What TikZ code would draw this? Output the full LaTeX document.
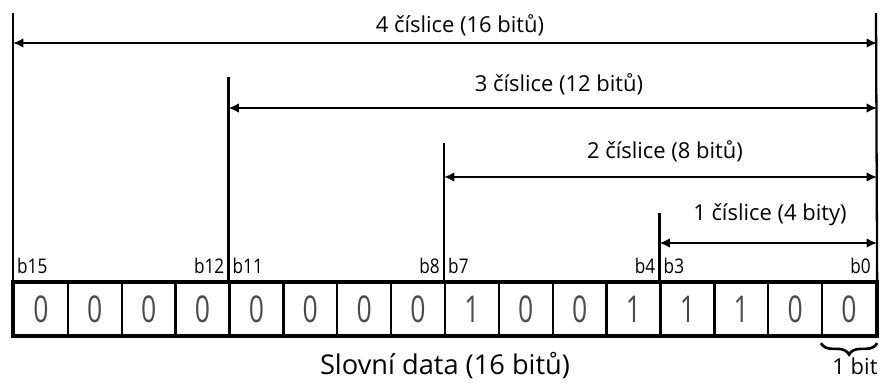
\documentclass[tikz,border=0pt]{standalone}
\usepackage{fontspec}
\setmainfont{Open Sans}
\usetikzlibrary{arrows.meta,decorations.pathreplacing}

\tikzset{
  bitcell/.style={draw, line width=1.3pt, minimum width=1.0775cm, minimum height=1.04cm,
    inner sep=0pt, font=\fontsize{21}{21}\selectfont},
  bitlabel/.style={inner sep=0pt, font=\fontsize{11.5}{13}\selectfont},
  guide/.style={line width=1.3pt},
  span/.style={line width=1.3pt, {Latex[length=6pt,width=5.5pt]}-{Latex[length=6pt,width=5.5pt]}},
  spanlabel/.style={anchor=base, inner sep=0pt, font=\fontsize{12.5}{15}\selectfont}
}

\begin{document}
\begin{tikzpicture}[x=0.02cm, y=-0.02cm]
\useasboundingbox (0,0) rectangle (882,382);

% bit cells, b15 on the left
\foreach \v [count=\i from 0] in {0,0,0,0,0,0,0,0,1,0,0,1,1,1,0,0} {
  \pgfmathtruncatemacro\b{15-\i}
  \node[bitcell] (bit\b) at ({14+53.875*\i+26.94},309) {\color{black!70}\scalebox{0.72}[1]{\v}};
}
\draw[line width=1.8pt] (bit15.north west) rectangle (bit0.south east);

% bit numbers
\foreach \b in {15,11,7,3}
  \node[bitlabel, anchor=base west, xshift=0.08cm, yshift=0.16cm] (lab\b) at (bit\b.north west) {\scalebox{0.85}[1]{b\b}};
\foreach \b in {12,8,4,0}
  \node[bitlabel, anchor=base east, xshift=-0.12cm, yshift=0.16cm] (lab\b) at (bit\b.north east) {\scalebox{0.85}[1]{b\b}};

% right guide
\coordinate (rtop) at (876,13);
\draw[guide] (bit0.north east) -- (rtop);

% digit spans
\foreach \b/\yt/\ya/\lx/\ly/\txt in {15/13/43/460/32/4 číslice (16 bitů),
    11/77/108/559/91/3 číslice (12 bitů),
    7/143/177/665/158/2 číslice (8 bitů),
    3/213/243/770/220/1 číslice (4 bity)} {
  \coordinate (top\b) at (bit\b.north west |- 0,\yt);
  \draw[guide] (bit\b.north west) -- (top\b);
  \coordinate (from\b) at (bit\b.north west |- 0,\ya);
  \coordinate (to\b) at (bit0.north east |- 0,\ya);
  \draw[span] (from\b) -- (to\b);
  \node[spanlabel] (digits\b) at (\lx,\ly) {\txt};
}

% one bit brace
\coordinate (bl) at ([yshift=-0.14cm]bit0.south west);
\coordinate (br) at ([yshift=-0.14cm]bit0.south east);
\draw[decorate, decoration={brace, mirror, amplitude=6.5pt}, line width=1.5pt] (bl) -- (br);
\node[spanlabel] (onebit) at (855,374) {1 bit};

% caption
\node[anchor=base, inner sep=0pt, font=\fontsize{15.5}{18}\selectfont] (caption) at (445,374) {Slovní data (16 bitů)};

\end{tikzpicture}
\end{document}
